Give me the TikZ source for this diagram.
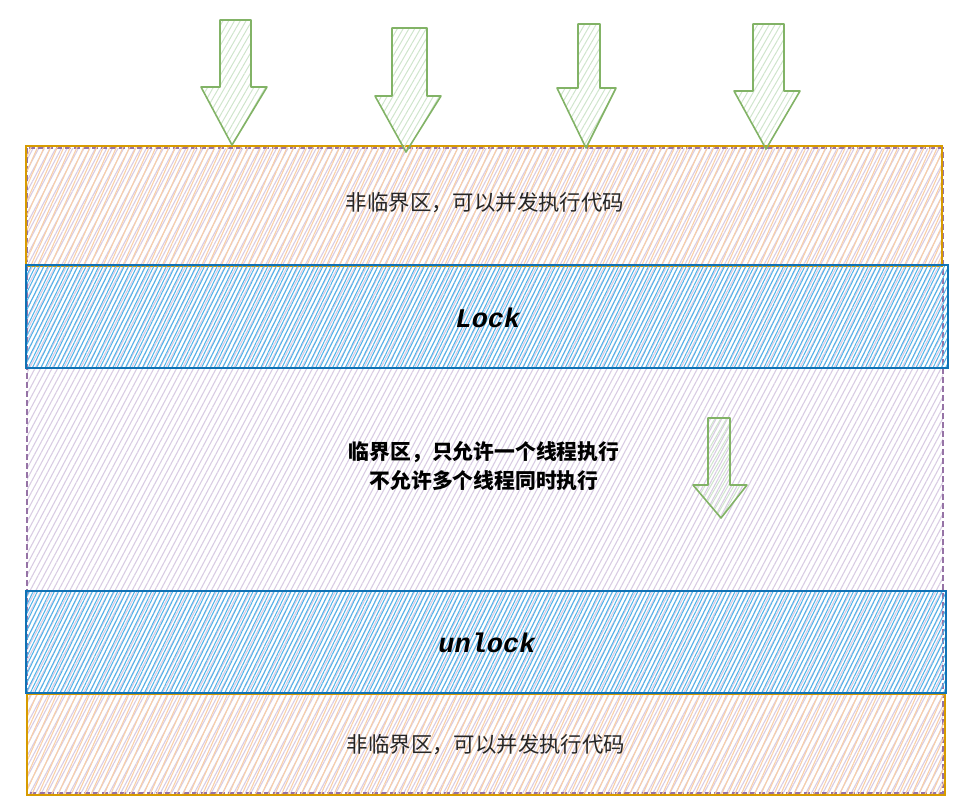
\documentclass[tikz,border=0pt]{standalone}
\usepackage{fontspec}
\newfontfamily\cjk{Noto Sans CJK SC}
\newfontfamily\mono{Liberation Mono}
\usetikzlibrary{patterns.meta}
\definecolor{orF}{HTML}{F9CFA8}
\definecolor{orD}{HTML}{D79B00}
\definecolor{puF}{HTML}{D9CCE3}
\definecolor{puD}{HTML}{9673A6}
\definecolor{blF}{HTML}{4DB3EA}
\definecolor{blD}{HTML}{1072B5}
\definecolor{grF}{HTML}{CFE5CC}
\definecolor{grD}{HTML}{82B366}
\tikzset{
  purplebox/.style={draw=puD,line width=1.1pt,dashed,dash pattern=on 6pt off 3pt,
    pattern={Lines[angle=62,distance=5pt,line width=1.1pt]},pattern color=puF},
  orangebox/.style={draw=orD,line width=1.6pt,
    pattern={Lines[angle=66,distance=6pt,line width=1.1pt]},pattern color=orF},
  bluebox/.style={draw=blD,line width=1.6pt,
    pattern={Lines[angle=64,distance=3.8pt,line width=1pt]},pattern color=blF},
  greenarrow/.style={draw=grD,line width=1.6pt,line join=round,
    pattern={Lines[angle=60,distance=5pt,line width=1pt]},pattern color=grF},
  plaintext/.style={font=\cjk\fontsize{21.4}{28}\selectfont,text=black!85,align=center},
  boldtext/.style={font=\cjk\bfseries\fontsize{20.8}{29}\selectfont,text=black,align=center},
  codetext/.style={font=\mono\bfseries\itshape\fontsize{27}{30}\selectfont,text=black}
}
% shaft-left, shaft-right, top, head-y, head-left, head-right, tip-x, tip-y
\newcommand\greendown[8]{%
  \draw[greenarrow] (#1,#3) -- (#2,#3) -- (#2,#4) -- (#6,#4) -- (#7,#8) -- (#5,#4) -- (#1,#4) -- cycle;}
\begin{document}
\begin{tikzpicture}[x=1pt,y=-1pt]
\useasboundingbox (0,0) rectangle (969,807);
% outer purple region
\draw[purplebox] (27,148) rectangle (943,793);
% orange regions
\draw[orangebox] (26,146) rectangle (942,266);
\draw[orangebox] (27,694) rectangle (945,795);
% blue bars
\draw[bluebox] (26,265) rectangle (948,368);
\draw[bluebox] (26,591) rectangle (946,693);
% arrows
\greendown{220}{251}{20}{87}{201}{267}{232}{145}
\greendown{392}{427}{28}{96}{375}{441}{406}{152}
\greendown{578}{600}{24}{88}{557}{616}{586}{148}
\greendown{753}{784}{24}{91}{734}{800}{766}{149}
\greendown{708}{730}{418}{485}{693}{747}{721}{518}
% texts
\node[plaintext] (top) at (485,203) {非临界区，可以并发执行代码};
\node[codetext] (lock) at (488,318) {Lock};
\node[boldtext] (crit) at (484,466) {临界区，只允许一个线程执行\\不允许多个线程同时执行};
\node[codetext] (unlock) at (487,643) {unlock};
\node[plaintext] (bottom) at (486,745) {非临界区，可以并发执行代码};
\end{tikzpicture}
\end{document}
